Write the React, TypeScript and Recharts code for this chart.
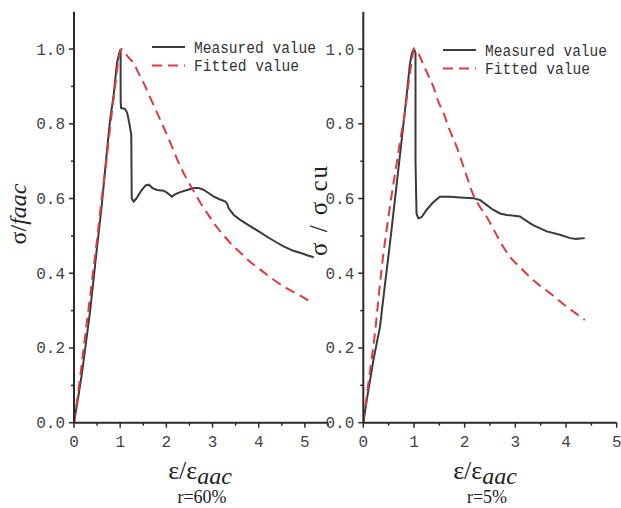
import React from 'react';
import { LineChart, Line, XAxis, YAxis, Legend } from 'recharts';

// ---------- data ----------
const leftMeasured: [number, number][] = [
  [0, 0], [0.08, 0.06], [0.17, 0.13], [0.35, 0.3], [0.49, 0.46], [0.6, 0.58], [0.7, 0.71],
  [0.78, 0.81], [0.855, 0.873], [0.93, 0.962], [0.98, 0.99], [1.01, 1.0], [1.01, 0.86],
  [1.02, 0.842], [1.1, 0.84], [1.15, 0.83], [1.2, 0.8], [1.24, 0.77], [1.25, 0.6],
  [1.29, 0.592], [1.35, 0.6], [1.45, 0.62], [1.55, 0.635], [1.62, 0.637], [1.7, 0.628],
  [1.8, 0.623], [1.94, 0.621], [2.01, 0.616], [2.12, 0.605], [2.2, 0.612], [2.3, 0.617],
  [2.45, 0.623], [2.6, 0.628], [2.7, 0.628], [2.81, 0.623], [2.92, 0.614], [3.03, 0.605],
  [3.15, 0.598], [3.28, 0.592], [3.32, 0.585], [3.35, 0.574], [3.46, 0.556], [3.6, 0.543],
  [3.83, 0.525], [4.0, 0.512], [4.19, 0.497], [4.38, 0.483], [4.55, 0.471], [4.75, 0.46],
  [4.91, 0.454], [5.05, 0.448], [5.19, 0.443],
];
const leftFitted: [number, number][] = [
  [0, 0], [0.1, 0.09], [0.2, 0.19], [0.3, 0.29], [0.4, 0.39], [0.5, 0.49], [0.6, 0.6],
  [0.7, 0.7], [0.8, 0.81], [0.9, 0.91], [0.96, 0.97], [1.03, 1.0], [1.1, 0.99], [1.2, 0.975],
  [1.29, 0.962], [1.4, 0.935], [1.51, 0.909], [1.65, 0.87], [1.8, 0.829], [1.95, 0.788],
  [2.09, 0.748], [2.25, 0.7], [2.45, 0.65], [2.6, 0.618], [2.74, 0.588], [2.9, 0.558],
  [3.03, 0.534], [3.25, 0.5], [3.46, 0.471], [3.61, 0.454], [3.8, 0.432], [4.0, 0.413],
  [4.33, 0.382], [4.6, 0.36], [4.9, 0.34], [5.17, 0.32],
];
const rightMeasured: [number, number][] = [
  [0, 0], [0.067, 0.06], [0.2, 0.168], [0.33, 0.257], [0.43, 0.373], [0.51, 0.462],
  [0.56, 0.52], [0.66, 0.64], [0.76, 0.76], [0.85, 0.87], [0.92, 0.96], [0.96, 0.99],
  [1.0, 1.0], [1.03, 0.99], [1.03, 0.7], [1.05, 0.56], [1.085, 0.547], [1.15, 0.55],
  [1.25, 0.57], [1.38, 0.59], [1.51, 0.605], [1.71, 0.605], [1.91, 0.603], [2.17, 0.601],
  [2.3, 0.596], [2.43, 0.583], [2.56, 0.57], [2.7, 0.56], [2.83, 0.556], [3.09, 0.552],
  [3.22, 0.54], [3.35, 0.529], [3.62, 0.512], [3.88, 0.503], [4.08, 0.494], [4.2, 0.492],
  [4.37, 0.494],
];
const rightFitted: [number, number][] = [
  [0, 0], [0.1, 0.105], [0.23, 0.24], [0.33, 0.373], [0.39, 0.445], [0.46, 0.516],
  [0.56, 0.61], [0.66, 0.695], [0.74, 0.765], [0.82, 0.829], [0.92, 0.936], [0.96, 0.97],
  [1.0, 1.0], [1.1, 0.985], [1.18, 0.96], [1.28, 0.93], [1.38, 0.9], [1.48, 0.86],
  [1.58, 0.829], [1.7, 0.785], [1.84, 0.739], [2.04, 0.66], [2.17, 0.61], [2.3, 0.578],
  [2.43, 0.552], [2.6, 0.51], [2.76, 0.471], [2.89, 0.445], [3.1, 0.415], [3.35, 0.382],
  [3.7, 0.345], [4.01, 0.311], [4.2, 0.292], [4.37, 0.275],
];
const xTicksLeft = [0, 0.5, 1, 1.5, 2, 2.5, 3, 3.5, 4, 4.5, 5, 5.5];
const xTicksRight = [0, 0.5, 1, 1.5, 2, 2.5, 3, 3.5, 4, 4.5, 5];
const yTicks = [0, 0.1, 0.2, 0.3, 0.4, 0.5, 0.6, 0.7, 0.8, 0.9, 1.0];
const seriesNames = ['Measured value', 'Fitted value'];
const caseLabels = ['r=60%', 'r=5%'];

// ---------- styles ----------
const AXIS = '#2a2a2a';
const MEAS = '#3a3a3a';
const FIT = '#e0393e';
const MONO = '"Liberation Mono", monospace';
const SERIF = '"Liberation Serif", "Times New Roman", serif';
const legendStyles = [
  { color: MEAS, dash: undefined as string | undefined, len: 122 },
  { color: FIT, dash: '10 6', len: 105 },
];

const toPts = (a: [number, number][]) => a.map(([x, y]) => ({ x, y }));

const XTick = (props: any) => {
  const { x, y, payload } = props;
  const v = payload.value as number;
  const major = Math.abs(v - Math.round(v)) < 1e-6;
  return (
    <g>
      <line x1={x} x2={x} y1={y} y2={y + (major ? 5 : 3)} stroke={AXIS} strokeWidth={1.5} />
      {major && (
        <text x={x} y={y + 24} textAnchor="middle" fontFamily={MONO} fontSize={16} fill="#444">
          {String(Math.round(v))}
        </text>
      )}
    </g>
  );
};

const YTick = (props: any) => {
  const { x, y, payload } = props;
  const v = payload.value as number;
  const major = Math.round(v * 10) % 2 === 0;
  return (
    <g>
      <line x1={x} x2={x - (major ? 5 : 3)} y1={y} y2={y} stroke={AXIS} strokeWidth={1.5} />
      {major && (
        <text x={x - 9} y={y + 5.5} textAnchor="end" fontFamily={MONO} fontSize={16} fill="#444">
          {v.toFixed(1)}
        </text>
      )}
    </g>
  );
};

const renderLegend = () => (
  <svg width={200} height={45} style={{ display: 'block', overflow: 'visible' }}>
    {seriesNames.map((name, i) => (
      <g key={name}>
        <line
          x1={7}
          x2={40}
          y1={12 + i * 18.5}
          y2={12 + i * 18.5}
          stroke={legendStyles[i].color}
          strokeWidth={2}
          strokeDasharray={legendStyles[i].dash}
        />
        <text
          x={49}
          y={17.5 + i * 18.5}
          fontFamily={MONO}
          fontSize={16}
          fill="#333"
          textLength={legendStyles[i].len}
          lengthAdjust="spacingAndGlyphs"
        >
          {name}
        </text>
      </g>
    ))}
  </svg>
);

const xTitle = (cx: number, baseY: number, caseText: string) => () => (
  <g>
    <text x={cx} y={479} textAnchor="middle" fontFamily={SERIF} fontSize={26} fill="#222">
      <tspan>ε/ε</tspan>
      <tspan fontStyle="italic" fontSize={24} dy={5}>aac</tspan>
    </text>
    <text x={cx + 2} y={baseY} textAnchor="middle" fontFamily={SERIF} fontSize={18} fill="#222">
      {caseText}
    </text>
  </g>
);

export default function App() {
  const lm = toPts(leftMeasured);
  const lf = toPts(leftFitted);
  const rm = toPts(rightMeasured);
  const rf = toPts(rightFitted);

  return (
    <div style={{ position: 'absolute', left: 0, top: 0, width: 621, height: 508, background: '#fff', overflow: 'hidden' }}>
      {/* Left panel */}
      <div style={{ position: 'absolute', left: 0, top: 0 }}>
        <LineChart width={340} height={508} margin={{ top: 11.7, right: 12, bottom: 55.3, left: 34 }}>
          <XAxis
            type="number"
            dataKey="x"
            domain={[0, 5.5]}
            ticks={xTicksLeft}
            interval={0}
            tick={(p: any) => <XTick {...p} />}
            tickLine={false}
            tickSize={0}
            tickMargin={0}
            height={30}
            axisLine={{ stroke: AXIS, strokeWidth: 2 }}
            allowDataOverflow
            label={xTitle(200, 503, caseLabels[0])}
          />
          <YAxis
            type="number"
            dataKey="y"
            domain={[0, 1.1]}
            ticks={yTicks}
            interval={0}
            tick={(p: any) => <YTick {...p} />}
            tickLine={false}
            tickSize={0}
            tickMargin={0}
            width={40}
            axisLine={{ stroke: AXIS, strokeWidth: 2 }}
            allowDataOverflow
            label={() => (
              <text
                x={26}
                y={214}
                transform="rotate(-90, 26, 214)"
                textAnchor="middle"
                fontFamily={SERIF}
                fontSize={24}
                fill="#222"
              >
                <tspan>σ/</tspan>
                <tspan fontStyle="italic">faac</tspan>
              </text>
            )}
          />
          <Legend
            layout="horizontal"
            verticalAlign="middle"
            align="center"
            wrapperStyle={{ left: 145, top: 35, width: 200, height: 45 }}
            content={renderLegend}
          />
          <Line
            data={lm}
            dataKey="y"
            name={seriesNames[0]}
            type="linear"
            stroke={MEAS}
            strokeWidth={2}
            dot={false}
            activeDot={false}
            isAnimationActive={false}
          />
          <Line
            data={lf}
            dataKey="y"
            name={seriesNames[1]}
            type="monotone"
            stroke={FIT}
            strokeWidth={2}
            strokeDasharray="10 6"
            dot={false}
            activeDot={false}
            isAnimationActive={false}
          />
        </LineChart>
      </div>

      {/* Right panel */}
      <div style={{ position: 'absolute', left: 300, top: 0 }}>
        <LineChart width={321} height={508} margin={{ top: 11.7, right: 4.3, bottom: 55.3, left: 33.3 }}>
          <XAxis
            type="number"
            dataKey="x"
            domain={[0, 5]}
            ticks={xTicksRight}
            interval={0}
            tick={(p: any) => <XTick {...p} />}
            tickLine={false}
            tickSize={0}
            tickMargin={0}
            height={30}
            axisLine={{ stroke: AXIS, strokeWidth: 2 }}
            allowDataOverflow
            label={xTitle(185, 503, caseLabels[1])}
          />
          <YAxis
            type="number"
            dataKey="y"
            domain={[0, 1.1]}
            ticks={yTicks}
            interval={0}
            tick={(p: any) => <YTick {...p} />}
            tickLine={false}
            tickSize={0}
            tickMargin={0}
            width={30}
            axisLine={{ stroke: AXIS, strokeWidth: 2 }}
            allowDataOverflow
            label={() => (
              <text
                x={27}
                y={211}
                transform="rotate(-90, 27, 211)"
                textAnchor="middle"
                fontFamily={SERIF}
                fontSize={25}
                fill="#222"
                textLength={90}
                lengthAdjust="spacing"
              >
                σ / σ cu
              </text>
            )}
          />
          <Legend
            layout="horizontal"
            verticalAlign="middle"
            align="center"
            wrapperStyle={{ left: 136, top: 37.5, width: 185, height: 45 }}
            content={renderLegend}
          />
          <Line
            data={rm}
            dataKey="y"
            name={seriesNames[0]}
            type="linear"
            stroke={MEAS}
            strokeWidth={2}
            dot={false}
            activeDot={false}
            isAnimationActive={false}
          />
          <Line
            data={rf}
            dataKey="y"
            name={seriesNames[1]}
            type="monotone"
            stroke={FIT}
            strokeWidth={2}
            strokeDasharray="10 6"
            dot={false}
            activeDot={false}
            isAnimationActive={false}
          />
        </LineChart>
      </div>
    </div>
  );
}
